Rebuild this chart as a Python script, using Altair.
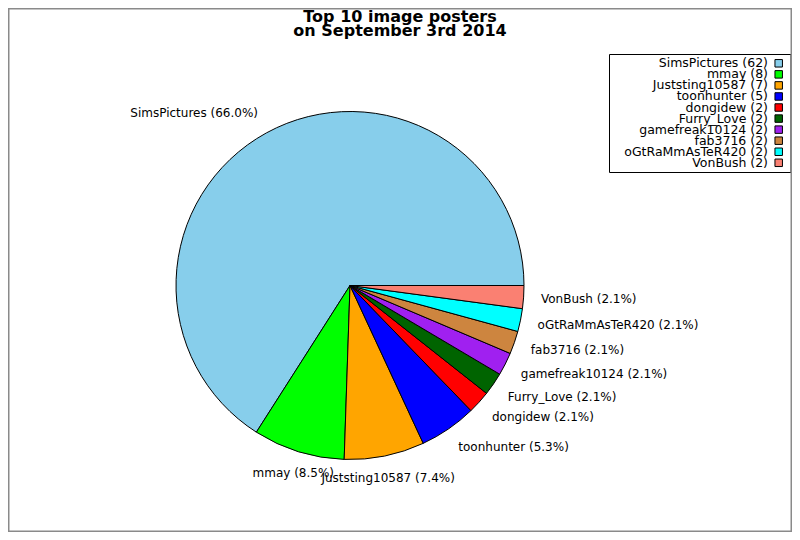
import math
import altair as alt
import pandas as pd

# ---- data ----
names = ["SimsPictures", "mmay", "Juststing10587", "toonhunter", "dongidew",
         "Furry_Love", "gamefreak10124", "fab3716", "oGtRaMmAsTeR420", "VonBush"]
counts = [62, 8, 7, 5, 2, 2, 2, 2, 2, 2]
colors = ["#87CEEB", "#00FF00", "#FFA500", "#0000FF", "#FF0000",
          "#006400", "#A020F0", "#CD853F", "#00FFFF", "#FA8072"]
title_lines = ["Top 10 image posters", "on September 3rd 2014"]

total = sum(counts)
rows = []
cum = 0
for i, (n, c) in enumerate(zip(names, counts)):
    mid = 2 * math.pi * (cum + c / 2) / total  # counter-clockwise from east
    cx = math.cos(mid)
    if abs(cx) < 0.3:
        al = "center"
    elif cx > 0:
        al = "left"
    else:
        al = "right"
    rows.append({
        "name": n, "count": c, "idx": i,
        "plabel": f"{n} ({100 * c / total:.1f}%)",
        "llabel": f"{n} ({c})",
        "al": al,
        "dy": -5 * math.sin(mid),
    })
    cum += c
df = pd.DataFrame(rows)

CX, CY, R = 342, 277.5, 174
FONT = "DejaVu Sans"

theta = alt.Theta("count:Q", stack=True,
                  scale=alt.Scale(range=[math.pi / 2, math.pi / 2 + 2 * math.pi]))
order = alt.Order("idx:Q", sort="descending")
color = alt.Color("name:N", scale=alt.Scale(domain=names, range=colors), legend=None)

pie = alt.Chart(df).mark_arc(outerRadius=R, stroke="black", strokeWidth=1).encode(
    theta=theta, order=order, color=color,
    x=alt.value(CX), y=alt.value(CY),
)

labels = alt.Chart(df).mark_text(
    radius=R * 1.1, font=FONT, fontSize=12, color="black",
    align=alt.expr("datum.al"), dy=alt.expr("datum.dy"), baseline="middle",
).encode(
    theta=theta, order=order, detail="name:N", text="plabel:N",
    x=alt.value(CX), y=alt.value(CY),
)

one = pd.DataFrame({"k": [0]})

legend_box = alt.Chart(one).mark_rect(fill="white", stroke="black", strokeWidth=1).encode(
    x=alt.value(601.5), x2=alt.value(783), y=alt.value(46.5), y2=alt.value(164.5),
)

ly = alt.Y("name:N", sort=names, axis=None,
           scale=alt.Scale(type="point", range=[55.3, 154.8], padding=0))

legend_text = alt.Chart(df).mark_text(
    font=FONT, fontSize=12.5, color="black", align="right", baseline="middle",
).encode(x=alt.value(760), y=ly, text="llabel:N")

legend_sw = alt.Chart(df).mark_square(
    size=56, stroke="black", strokeWidth=1, opacity=1, filled=True,
).encode(x=alt.value(770.7), y=ly, color=color)

title = alt.Chart(one).mark_text(
    text=title_lines, font=FONT, fontSize=16, fontWeight="bold", color="black",
    align="center", baseline="alphabetic", lineHeight=14,
).encode(x=alt.value(392), y=alt.value(14))

frame = alt.Chart(one).mark_rect(fill=None, stroke="#8a8a8a", strokeWidth=1.5).encode(
    x=alt.value(0.75), x2=alt.value(783.25), y=alt.value(0.75), y2=alt.value(523.25),
)

chart = alt.layer(pie, labels, legend_box, legend_text, legend_sw, title, frame).properties(
    width=784, height=524,
    autosize=alt.AutoSizeParams(type="none"),
    padding=0,
    background="white",
).configure_view(stroke=None)

chart.save("out.html", embed_options={"renderer": "svg", "actions": False})
